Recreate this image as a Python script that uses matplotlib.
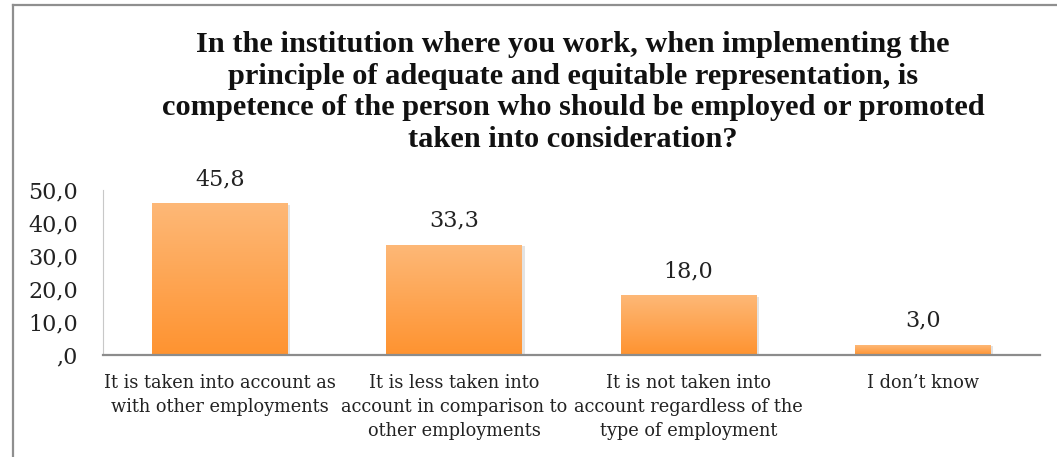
import matplotlib
matplotlib.use("Agg")
import matplotlib.pyplot as plt
import numpy as np
from matplotlib.lines import Line2D
from matplotlib.colors import LinearSegmentedColormap

title = ("In the institution where you work, when implementing the\n"
         "principle of adequate and equitable representation, is\n"
         "competence of the person who should be employed or promoted\n"
         "taken into consideration?")
categories = [
    "It is taken into account as\nwith other employments",
    "It is less taken into\naccount in comparison to\nother employments",
    "It is not taken into\naccount regardless of the\ntype of employment",
    "I don\u2019t know",
]
values = [45.8, 33.3, 18.0, 3.0]
yticks = [0, 10, 20, 30, 40, 50]

def fmt(v):
    s = f"{v:.1f}".replace(".", ",")
    return s[1:] if s.startswith("0,") else s

W, H = 1057, 457
fig = plt.figure(figsize=(W / 100, H / 100), dpi=100)
serif = ["DejaVu Serif"]

ax = fig.add_axes([103 / W, 1 - 355 / H, (1040 - 103) / W, (355 - 190) / H])
x = np.arange(len(categories))
bw = 0.58
cmap = LinearSegmentedColormap.from_list("og", ["#FF9330", "#FDB877"])
grad = np.linspace(0, 1, 256).reshape(-1, 1)
for xi, v in zip(x, values):
    # soft shadow
    ax.bar(xi + 0.01, v, bw, bottom=-0.4, color="#b0b0b0", alpha=0.35, zorder=1, linewidth=0)
    ax.imshow(grad, extent=[xi - bw / 2, xi + bw / 2, 0, v], origin="lower",
              cmap=cmap, aspect="auto", zorder=2)
    ax.text(xi, v + 4.0, fmt(v), ha="center", va="bottom", fontsize=16, family=serif, color="#222222")

ax.set_xlim(-0.5, len(categories) - 0.5)
ax.set_ylim(0, 50)
ax.set_yticks(yticks)
ax.set_yticklabels([fmt(t) for t in yticks], fontsize=16, family=serif, color="#222222")
ax.set_xticks(x)
ax.set_xticklabels(categories, fontsize=12.8, family=serif, color="#222222", linespacing=1.4)
ax.tick_params(axis="y", length=0, pad=18)
ax.tick_params(axis="x", length=0, pad=14)
for s in ["top", "right"]:
    ax.spines[s].set_visible(False)
ax.spines["left"].set_color("#c8c8c8")
ax.spines["bottom"].set_color("#8c8c8c")
ax.spines["bottom"].set_linewidth(1.6)

fig.text(573 / W, 1 - 92 / H, title, ha="center", va="center", fontsize=21.9,
         fontweight="bold", family=["Liberation Serif", "DejaVu Serif"],
         linespacing=1.22, color="#111111")

fig.add_artist(Line2D([13 / W, 13 / W], [0, 1 - 5 / H], transform=fig.transFigure, color="#8f8f8f", lw=1.6))
fig.add_artist(Line2D([13 / W, 1], [1 - 5 / H, 1 - 5 / H], transform=fig.transFigure, color="#8f8f8f", lw=1.6))

fig.savefig("out.png", dpi=100)
